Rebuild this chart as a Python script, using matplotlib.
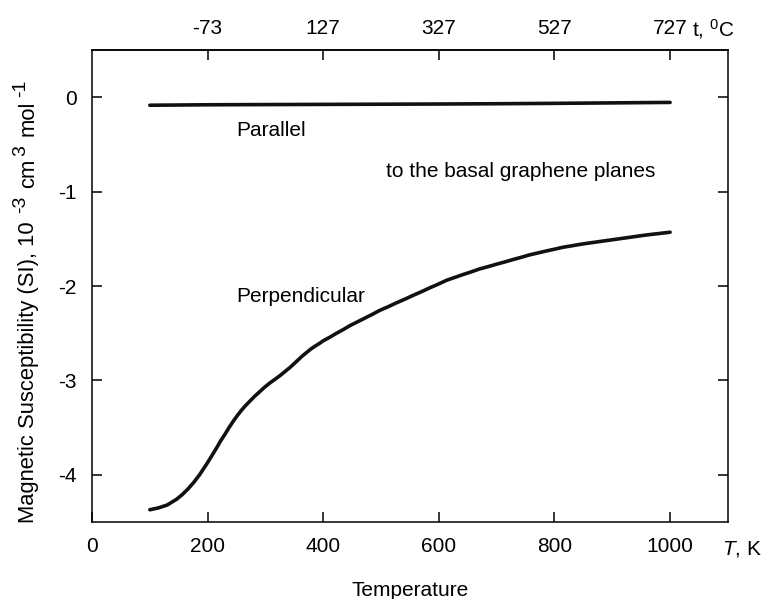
import matplotlib
matplotlib.use("Agg")
import matplotlib.pyplot as plt

plt.rcParams["font.family"] = ["Liberation Sans", "DejaVu Sans"]
plt.rcParams["mathtext.fontset"] = "custom"
plt.rcParams["mathtext.rm"] = "Liberation Sans"
plt.rcParams["mathtext.it"] = "Liberation Sans:italic"

# Temperature grid (K) and susceptibility (10^-3 cm^3 mol^-1)
T_parallel = [100, 200, 300, 400, 500, 600, 700, 800, 900, 1000]
chi_parallel = [-0.085, -0.080, -0.078, -0.076, -0.074, -0.072, -0.069, -0.065, -0.060, -0.055]

T_perp = [100, 115, 130, 146, 156, 166, 176, 186, 193, 200, 208, 215, 222, 230, 237, 244,
          251, 258, 265, 273, 281, 290, 298, 307, 316, 325, 333, 342, 350, 357, 364,
          371, 378, 385, 393, 400, 412, 423, 435, 446, 459, 472, 485, 497, 512, 526,
          541, 555, 570, 584, 599, 613, 627, 641, 656, 670, 685, 699, 714, 728, 743,
          757, 771, 785, 800, 814, 829, 843, 857, 871, 886, 900, 915, 929, 944, 958,
          979, 1000]
chi_perp = [-4.37, -4.35, -4.32, -4.26, -4.21, -4.15, -4.08, -4.00, -3.935, -3.87, -3.79,
            -3.72, -3.645, -3.57, -3.50, -3.435, -3.375, -3.32, -3.27, -3.22, -3.17, -3.12,
            -3.075, -3.03, -2.99, -2.95, -2.91, -2.865, -2.82, -2.78, -2.74, -2.705, -2.67,
            -2.64, -2.61, -2.58, -2.54, -2.50, -2.46, -2.42, -2.38, -2.34, -2.30, -2.26,
            -2.22, -2.18, -2.14, -2.10, -2.06, -2.02, -1.98, -1.94, -1.91, -1.88, -1.85,
            -1.82, -1.795, -1.77, -1.745, -1.72, -1.695, -1.67, -1.65, -1.63, -1.61,
            -1.59, -1.575, -1.56, -1.547, -1.535, -1.522, -1.51, -1.497, -1.485, -1.472,
            -1.46, -1.445, -1.43]

x_ticks = [0, 200, 400, 600, 800, 1000]
y_ticks = [0, -1, -2, -3, -4]
celsius_ticks = [-73, 127, 327, 527, 727]

# y-axis title pieces: (text, is_superscript)
ylabel_parts = [("Magnetic Susceptibility (SI), 10", False), ("-3", True),
                ("cm", False), ("3", True), ("mol", False), ("-1", True)]

FS = 15
W, H = 763, 599

fig = plt.figure(figsize=(W / 100, H / 100), dpi=100)
ax = fig.add_axes([0.1206, 0.1285, 0.8334, 0.788])

ax.plot(T_parallel, chi_parallel, color="#111111", lw=2.6, solid_capstyle="round")
ax.plot(T_perp, chi_perp, color="#111111", lw=2.6, solid_capstyle="round",
        solid_joinstyle="round")

ax.set_xlim(0, 1100)
ax.set_ylim(-4.5, 0.5)
ax.set_xticks(x_ticks)
ax.set_yticks(y_ticks)
ax.set_yticklabels([str(v) for v in y_ticks])
ax.tick_params(axis="x", direction="in", length=7, width=1.1, labelsize=FS, pad=11)
ax.tick_params(axis="y", direction="in", length=7, width=1.1, labelsize=FS, pad=11,
               right=True)
for s in ax.spines.values():
    s.set_linewidth(1.1)

top = ax.secondary_xaxis("top", functions=(lambda t: t - 273, lambda c: c + 273))
top.set_xticks(celsius_ticks)
top.set_xticklabels([str(c) for c in celsius_ticks])
top.tick_params(direction="in", length=7, width=1.1, labelsize=FS, pad=9)
top.spines["top"].set_linewidth(1.1)

ax.set_xlabel("Temperature", fontsize=FS, labelpad=18)

# vertical axis title with large superscripts, laid out piece by piece
renderer = fig.canvas.get_renderer()
base_x = 34          # baseline position, pixels from left
pos_y = H - 523      # start of the title, pixels from bottom
sizes = [15.8, 14, 15.8, 14, 15.8, 14]
gaps = [8, 8, 3, 9, 3, 0]
for (txt, sup), size, gap in zip(ylabel_parts, sizes, gaps):
    x = base_x - (9 if sup else 0)
    t = fig.text(x / W, pos_y / H, txt, fontsize=size, rotation=90,
                 rotation_mode="anchor", ha="left", va="baseline")
    pos_y += t.get_window_extent(renderer=renderer).height + gap

fig.text(722 / W, 1 - 549 / H, r"$\it{T}$, K", fontsize=FS, ha="left", va="center")
fig.text(692 / W, 1 - 29 / H, r"t, $^{0}$C", fontsize=FS, ha="left", va="center")

ax.text(250, -0.35, "Parallel", fontsize=FS, ha="left", va="center")
ax.text(508, -0.79, "to the basal graphene planes", fontsize=FS, ha="left", va="center")
ax.text(250, -2.11, "Perpendicular", fontsize=FS, ha="left", va="center")

fig.savefig("out.png", dpi=100)
